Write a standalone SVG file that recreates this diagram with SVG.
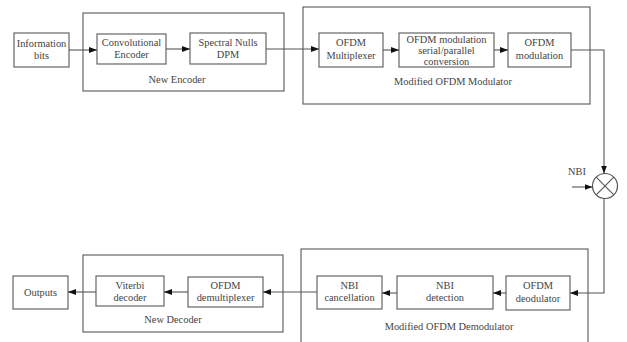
<svg xmlns="http://www.w3.org/2000/svg" width="627" height="342" viewBox="0 0 627 342">
<defs>
<marker id="ah" markerWidth="8" markerHeight="6" refX="8" refY="3" orient="auto" markerUnits="userSpaceOnUse">
<path d="M0,0 L8,3 L0,6 Z" fill="#111"/>
</marker>
</defs>
<style>
.box{fill:#fff;stroke:#666;stroke-width:1.2}
.grp{fill:none;stroke:#666;stroke-width:1.2}
.t{font-family:"Liberation Serif","DejaVu Serif",serif;font-size:10.4px;fill:#444;text-anchor:middle}
.c{fill:none;stroke:#555;stroke-width:1.1}
</style>
<rect width="627" height="342" fill="#fff"/>
<g id="new-encoder">
<rect class="grp" x="83" y="13" width="201" height="78"/>
<text class="t" x="177" y="83">New Encoder</text>
</g>
<g id="modified-ofdm-modulator">
<rect class="grp" x="303" y="7" width="287" height="97"/>
<text class="t" x="453" y="85">Modified OFDM Modulator</text>
</g>
<g id="new-decoder">
<rect class="grp" x="83" y="255" width="200" height="77"/>
<text class="t" x="173" y="323">New Decoder</text>
</g>
<g id="modified-ofdm-demodulator">
<rect class="grp" x="301" y="249" width="287" height="100"/>
<text class="t" x="449" y="330">Modified OFDM Demodulator</text>
</g>
<g id="information-bits">
<rect class="box" x="14" y="33" width="55" height="34"/>
<text class="t" x="41.5" y="47">Information</text>
<text class="t" x="41.5" y="59">bits</text>
</g>
<g id="convolutional-encoder">
<rect class="box" x="97" y="34" width="69" height="30"/>
<text class="t" x="131.5" y="46">Convolutional</text>
<text class="t" x="131.5" y="58">Encoder</text>
</g>
<g id="spectral-nulls-dpm">
<rect class="box" x="190" y="33" width="76" height="31"/>
<text class="t" x="228" y="46">Spectral Nulls</text>
<text class="t" x="228" y="58">DPM</text>
</g>
<g id="ofdm-multiplexer">
<rect class="box" x="319" y="33" width="64" height="34"/>
<text class="t" x="351" y="46">OFDM</text>
<text class="t" x="351" y="59">Multiplexer</text>
</g>
<g id="ofdm-serial-parallel">
<rect class="box" x="399" y="33" width="95" height="34"/>
<text class="t" x="446.5" y="43">OFDM modulation</text>
<text class="t" x="446.5" y="54">serial/parallel</text>
<text class="t" x="446.5" y="65">conversion</text>
</g>
<g id="ofdm-modulation">
<rect class="box" x="508" y="33" width="63" height="34"/>
<text class="t" x="539.5" y="46">OFDM</text>
<text class="t" x="539.5" y="59">modulation</text>
</g>
<g id="mixer">
<circle cx="605" cy="186" r="12.5" fill="#fff" stroke="#555" stroke-width="1.2"/>
<line x1="596.2" y1="177.2" x2="613.8" y2="194.8" stroke="#555" stroke-width="1.1"/>
<line x1="613.8" y1="177.2" x2="596.2" y2="194.8" stroke="#555" stroke-width="1.1"/>
</g>
<g id="nbi-label">
<text class="t" x="577" y="175">NBI</text>
</g>
<g id="ofdm-deodulator">
<rect class="box" x="506" y="276" width="64" height="34"/>
<text class="t" x="538" y="289">OFDM</text>
<text class="t" x="538" y="302">deodulator</text>
</g>
<g id="nbi-detection">
<rect class="box" x="397" y="276" width="96" height="33"/>
<text class="t" x="445" y="289">NBI</text>
<text class="t" x="445" y="301">detection</text>
</g>
<g id="nbi-cancellation">
<rect class="box" x="317" y="276" width="65" height="33"/>
<text class="t" x="349.5" y="289">NBI</text>
<text class="t" x="349.5" y="301">cancellation</text>
</g>
<g id="ofdm-demultiplexer">
<rect class="box" x="188" y="277" width="75" height="30"/>
<text class="t" x="225.5" y="289">OFDM</text>
<text class="t" x="225.5" y="301">demultiplexer</text>
</g>
<g id="viterbi-decoder">
<rect class="box" x="96" y="276" width="68" height="30"/>
<text class="t" x="130" y="289">Viterbi</text>
<text class="t" x="130" y="301">decoder</text>
</g>
<g id="outputs">
<rect class="box" x="13" y="276" width="55" height="33"/>
<text class="t" x="40.5" y="296">Outputs</text>
</g>
<g id="connectors">
<path class="c" d="M69,50 H97" marker-end="url(#ah)"/>
<path class="c" d="M166,49 H190" marker-end="url(#ah)"/>
<path class="c" d="M266,49 H319" marker-end="url(#ah)"/>
<path class="c" d="M383,50 H399" marker-end="url(#ah)"/>
<path class="c" d="M494,50 H508" marker-end="url(#ah)"/>
<path class="c" d="M571,50 H604 V173.5" marker-end="url(#ah)"/>
<path class="c" d="M572,187 H592.5" marker-end="url(#ah)"/>
<path class="c" d="M604,198.5 V293 H570" marker-end="url(#ah)"/>
<path class="c" d="M506,293 H493" marker-end="url(#ah)"/>
<path class="c" d="M397,293 H382" marker-end="url(#ah)"/>
<path class="c" d="M317,292 H263" marker-end="url(#ah)"/>
<path class="c" d="M188,292 H164" marker-end="url(#ah)"/>
<path class="c" d="M96,292 H68" marker-end="url(#ah)"/>
</g>
</svg>
